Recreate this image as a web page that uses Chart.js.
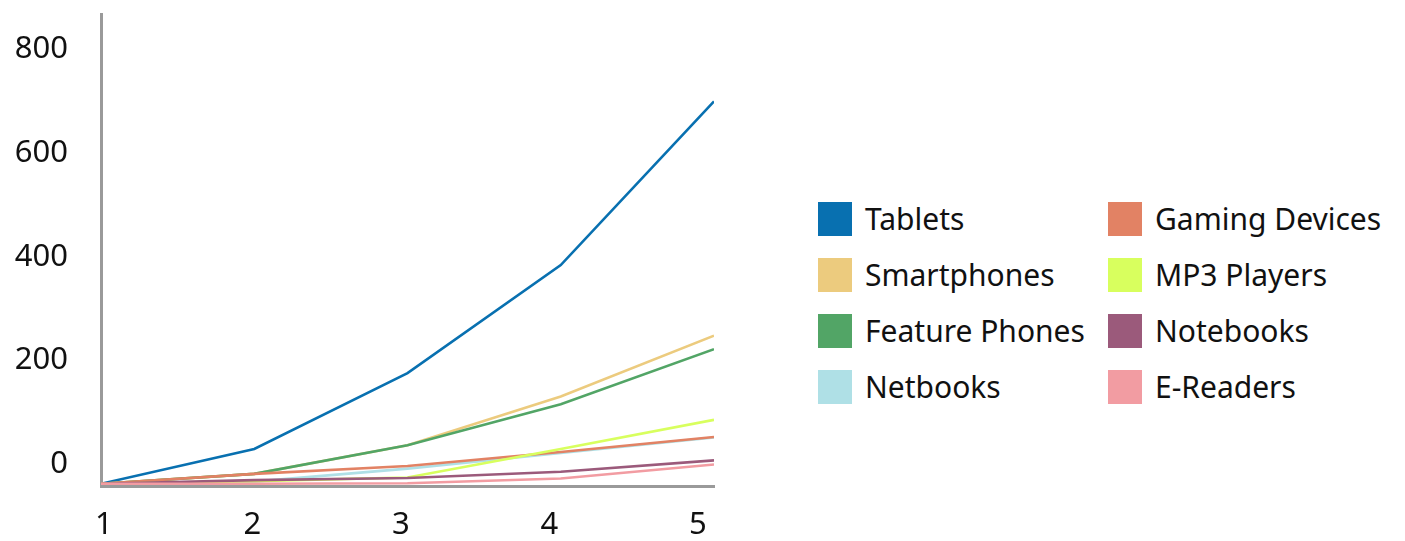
<!DOCTYPE html>
<html>
<head>
<meta charset="utf-8">
<script src="https://cdn.jsdelivr.net/npm/chart.js@4"></script>
<style>
  body { margin: 0; background: #fff; font-family: "Noto Sans", sans-serif; }
  #wrap { position: relative; width: 1405px; height: 541px; }
  #box { position: absolute; left: 0; top: 0; width: 740px; height: 541px; }
  #legend { position: absolute; left: 818px; top: 201px; display: grid;
    grid-template-columns: 290px 300px; row-gap: 21px; }
  .item { display: flex; align-items: center; height: 35px; font-size: 30px; color: #111; }
  .sw { width: 34px; height: 34px; margin-right: 13px; flex: none; }
</style>
</head>
<body>
<div id="wrap">
  <div id="box"><canvas id="chart"></canvas></div>
  <div id="legend"></div>
</div>
<script>
const xValues = [1, 2, 3, 4, 5];
const yTicks = [0, 200, 400, 600, 800];

const seriesNames = ["Tablets", "Smartphones", "Feature Phones", "Netbooks",
  "Gaming Devices", "MP3 Players", "Notebooks", "E-Readers"];
const seriesColors = ["#0870b0", "#eccb7e", "#52a566", "#afe0e6",
  "#e28264", "#d8ff5e", "#9b5a7b", "#f29ca2"];

const tablets = [-37, 30, 176, 384, 699];
const smartphones = [-37, -18, 37, 131, 248];
const featurePhones = [-37, -18, 37, 116, 222];
const netbooks = [-37, -33, -8, 22, 52];
const gamingDevices = [-37, -18, -3, 24, 53];
const mp3Players = [-37, -32, -25, 30, 86];
const notebooks = [-37, -30, -26, -14, 8];
const eReaders = [-37, -37, -36, -27, 0];

const seriesValues = [tablets, smartphones, featurePhones, netbooks,
  gamingDevices, mp3Players, notebooks, eReaders];

// legend, two columns: first four left, last four right
const legend = document.getElementById("legend");
[0, 4, 1, 5, 2, 6, 3, 7].forEach(i => {
  const item = document.createElement("div");
  item.className = "item";
  item.innerHTML = `<span class="sw" style="background:${seriesColors[i]}"></span>${seriesNames[i]}`;
  legend.appendChild(item);
});

const datasets = seriesNames.map((name, i) => ({
  label: name,
  data: seriesValues[i].map((v, j) => ({ x: xValues[j], y: v })),
  borderColor: seriesColors[i],
  borderWidth: 2.6,
  pointRadius: 0,
  tension: 0,
  order: seriesNames.length - i,
  xAxisID: "x",
  yAxisID: "y",
}));

const axisColor = "#9a9a9a";
const tickFont = { family: "Noto Sans", size: 31 };

new Chart(document.getElementById("chart").getContext("2d"), {
  type: "line",
  data: { datasets },
  options: {
    responsive: true,
    maintainAspectRatio: false,
    animation: false,
    layout: { padding: { top: 14, right: 26, bottom: 0, left: 0 } },
    plugins: { legend: { display: false }, tooltip: { enabled: false } },
    scales: {
      x: { type: "linear", min: 1, max: 5, display: false },
      xl: {
        type: "linear",
        position: "bottom",
        min: 0.98,
        max: 5.108,
        afterBuildTicks: s => { s.ticks = xValues.map(v => ({ value: v })); },
        afterFit: s => { s.height = 55; s.paddingLeft = 0; s.paddingRight = 0; },
        grid: { display: false, drawTicks: false },
        border: { color: axisColor, width: 3 },
        ticks: { font: tickFont, color: "#111", padding: 21, maxRotation: 0 },
      },
      y: {
        type: "linear",
        min: -41.4,
        max: 867.4,
        afterBuildTicks: s => { s.ticks = yTicks.map(v => ({ value: v })); },
        afterFit: s => { s.width = 101; s.paddingTop = 0; s.paddingBottom = 0; },
        grid: { display: false, drawTicks: false },
        border: { color: axisColor, width: 3 },
        ticks: { font: tickFont, color: "#111", padding: 33 },
      },
    },
  },
});
</script>
</body>
</html>
